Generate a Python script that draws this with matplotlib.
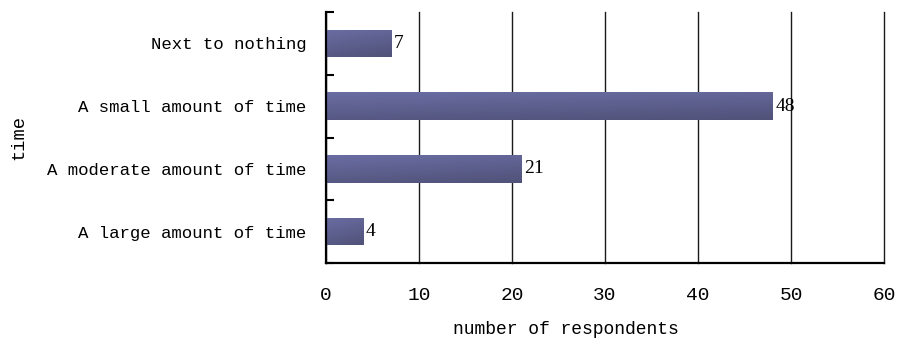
import numpy as np
import matplotlib
matplotlib.use("Agg")
import matplotlib.pyplot as plt
from matplotlib.colors import LinearSegmentedColormap

categories = ["Next to nothing", "A small amount of time",
              "A moderate amount of time", "A large amount of time"]
respondents = [7, 48, 21, 4]
x_ticks = [0, 10, 20, 30, 40, 50, 60]

label_font = "Liberation Mono"
value_font = "Liberation Serif"

fig = plt.figure(figsize=(8.97, 3.45), dpi=100)
ax = fig.add_axes([0.3634, 0.2377, 0.6221, 0.7273])

ypos = np.arange(len(categories))[::-1]
bars = ax.barh(ypos, respondents, height=0.44, color="#5d5f8f", zorder=3)

# diagonal shading on each bar
cmap = LinearSegmentedColormap.from_list("bar", ["#6a6da2", "#505279"])
gy, gx = np.mgrid[0:1:50j, 0:1:200j]
grad = 0.75 * gy + 0.25 * gx
for b in bars:
    x0, y0, w, h = b.get_x(), b.get_y(), b.get_width(), b.get_height()
    im = ax.imshow(grad, cmap=cmap, extent=(x0, x0 + w, y0, y0 + h),
                   origin="upper", aspect="auto", zorder=4, interpolation="bilinear")
    im.set_clip_path(b)
    ax.text(x0 + w + 0.3, y0 + h / 2, f"{w:g}", va="center", ha="left",
            fontsize=14, family=value_font, zorder=5)

ax.set_xlim(0, 60)
ax.set_ylim(-0.5, len(categories) - 0.5)

ax.set_xticks(x_ticks)
ax.set_xticklabels([str(t) for t in x_ticks], family=label_font, fontsize=14)
ax.xaxis.grid(True, color="#1a1a1a", linewidth=1.0, zorder=1)
for gl in ax.get_xgridlines():
    gl.set_clip_on(False)
ax.tick_params(axis="x", direction="in", length=0, pad=17)

ax.set_yticks(np.arange(-0.5, len(categories)), minor=False)
ax.set_yticklabels([])
ax.set_yticks(ypos, minor=True)
ax.set_yticklabels(categories, minor=True, family=label_font, fontsize=12.5)
ax.tick_params(axis="y", which="major", direction="in", length=6, width=1.5)
ax.tick_params(axis="y", which="minor", length=0, pad=14)

for s in ("top", "right"):
    ax.spines[s].set_visible(False)
for s in ("left", "bottom"):
    ax.spines[s].set_linewidth(1.6)
    ax.spines[s].set_zorder(6)

ax.set_xlabel("number of respondents", family=label_font, fontsize=13)
ax.xaxis.set_label_coords(0.43, -0.23)
ax.set_ylabel("time", family=label_font, fontsize=13.5)
ax.yaxis.set_label_coords(-0.535, 0.5)

fig.savefig("out.png", dpi=100)
